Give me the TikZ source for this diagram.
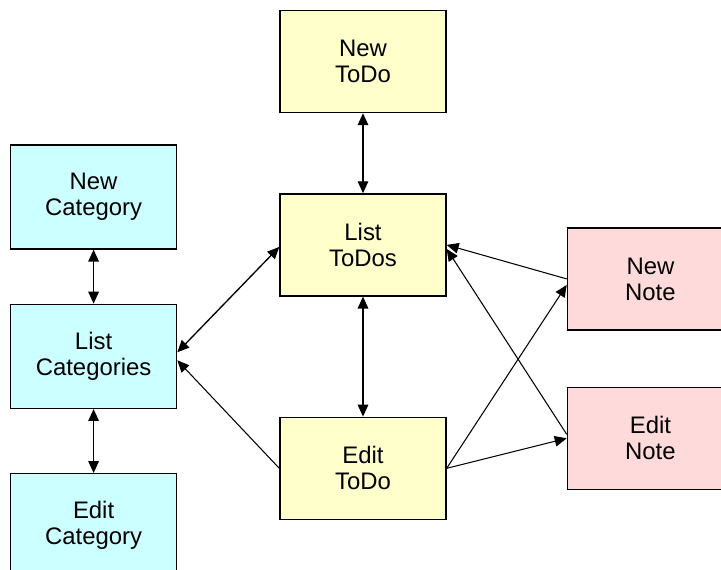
\documentclass[tikz,border=0pt]{standalone}
\usepackage{fontspec}
\setmainfont{Liberation Sans}
\usetikzlibrary{positioning,arrows.meta}
\definecolor{todofill}{RGB}{255,255,204}
\definecolor{catfill}{RGB}{204,255,255}
\definecolor{notefill}{RGB}{255,218,218}

\begin{document}
\begin{tikzpicture}[
screen/.style={rectangle, draw=black, line width=1pt, minimum width=4.15cm, minimum height=2.55cm, align=center, font=\fontsize{17}{18.5}\selectfont},
todo/.style={screen, fill=todofill},
cat/.style={screen, fill=catfill, minimum height=2.6cm},
note/.style={screen, fill=notefill},
oneway/.style={-{Triangle[length=8.5pt, width=7.5pt]}, line width=0.75pt},
twoway/.style={{Triangle[length=8.5pt, width=7.5pt]}-{Triangle[length=8.5pt, width=7.5pt]}, line width=0.95pt},
]
\useasboundingbox (-9.075,1.5375) rectangle (8.95,-12.6875);
%Nodes
\node[todo]      (new_todo)                                     {New\\ToDo};
\node[todo]      (list_todos)      [below=2cm of new_todo]      {List\\ToDos};
\node[todo]      (edit_todo)       [below=3cm of list_todos]    {Edit\\ToDo};

\node[cat]       (list_cats)       [below left=0.175cm and 2.55cm of list_todos.south west] {List\\Categories};
\node[cat]       (new_cat)         [above=1.35cm of list_cats]  {New\\Category};
\node[cat]       (edit_cat)        [below=1.6cm of list_cats]   {Edit\\Category};

\node[note]      (new_note)        [right=3cm of list_todos, yshift=-0.85cm] {New\\Note};
\node[note]      (edit_note)       [below=1.4cm of new_note]    {Edit\\Note};

%Lines
\draw[twoway] (new_todo.south) -- (list_todos.north);
\draw[twoway] (list_todos.south) -- (edit_todo.north);
\draw[twoway] (new_cat.south) -- (list_cats.north);
\draw[twoway] (list_cats.south) -- (edit_cat.north);
\draw[twoway] ([yshift=0.1cm]list_cats.east) -- ([yshift=-0.05cm]list_todos.west);
\draw[oneway] (edit_todo.west) -- ([yshift=-0.1cm]list_cats.east);
\draw[oneway] (new_note.west) -- (list_todos.east);
\draw[oneway] ([yshift=0.1cm]edit_note.west) -- ([yshift=-0.1cm]list_todos.east);
\draw[oneway] (edit_todo.east) -- ([yshift=-0.15cm]new_note.west);
\draw[oneway] (edit_todo.east) -- (edit_note.west);

\end{tikzpicture}
\end{document}
